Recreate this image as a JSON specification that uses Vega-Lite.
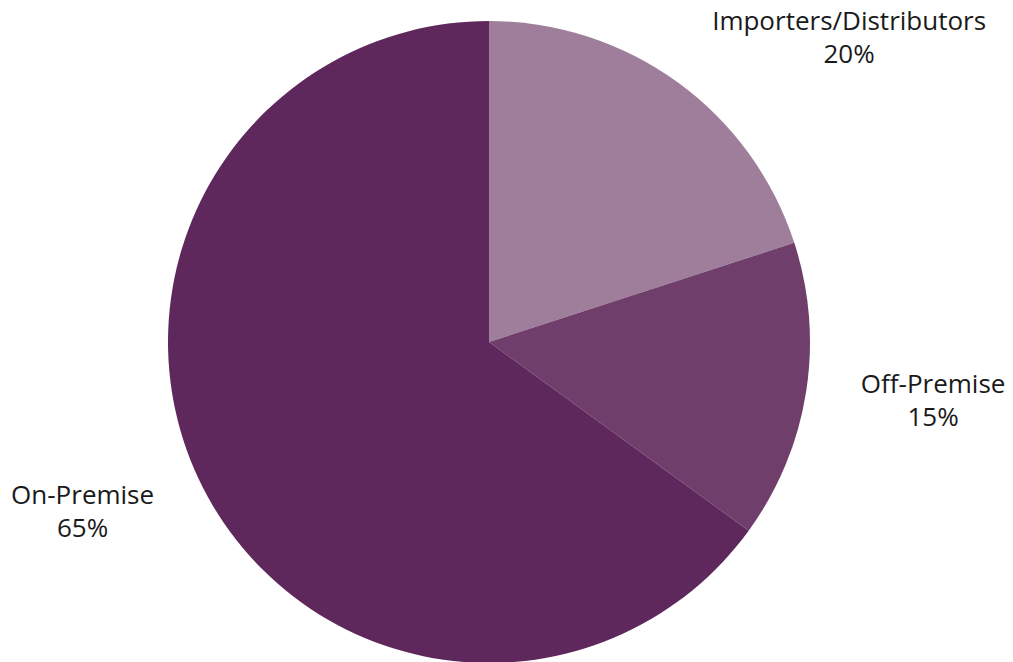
{
  "$schema": "https://vega.github.io/schema/vega-lite/v6.json",
  "width": 978,
  "height": 662,
  "autosize": {"type": "none"},
  "padding": {"left": 0, "top": 11, "right": 35, "bottom": 0},
  "background": "white",
  "view": {"stroke": null},
  "data": {
    "values": [
      {"segment": "Importers/Distributors", "share": 20, "label": "Importers/Distributors\n20%", "order": 1},
      {"segment": "Off-Premise", "share": 15, "label": "Off-Premise\n15%", "order": 2},
      {"segment": "On-Premise", "share": 65, "label": "On-Premise\n65%", "order": 3}
    ]
  },
  "encoding": {
    "theta": {"field": "share", "type": "quantitative", "stack": true},
    "order": {"field": "order", "type": "quantitative"}
  },
  "layer": [
    {
      "mark": {"type": "arc", "outerRadius": 321},
      "encoding": {
        "color": {
          "field": "segment",
          "type": "nominal",
          "scale": {
            "domain": ["Importers/Distributors", "Off-Premise", "On-Premise"],
            "range": ["#9F7E9B", "#6F3E6B", "#5F285D"]
          },
          "legend": null
        }
      }
    },
    {
      "mark": {"type": "text", "radius": 400, "dx": 125, "dy": 4, "lineBreak": "\n", "lineHeight": 33, "fontSize": 26, "font": "Open Sans", "color": "#1a1a1a", "align": "center", "baseline": "middle"},
      "encoding": {"text": {"condition": {"test": "datum.segment === 'Importers/Distributors'", "field": "label"}, "value": ""}}
    },
    {
      "mark": {"type": "text", "radius": 400, "dx": 49, "dy": -20, "lineBreak": "\n", "lineHeight": 33, "fontSize": 26, "font": "Open Sans", "color": "#1a1a1a", "align": "center", "baseline": "middle"},
      "encoding": {"text": {"condition": {"test": "datum.segment === 'Off-Premise'", "field": "label"}, "value": ""}}
    },
    {
      "mark": {"type": "text", "radius": 400, "dx": -50, "dy": -28, "lineBreak": "\n", "lineHeight": 33, "fontSize": 26, "font": "Open Sans", "color": "#1a1a1a", "align": "center", "baseline": "middle"},
      "encoding": {"text": {"condition": {"test": "datum.segment === 'On-Premise'", "field": "label"}, "value": ""}}
    }
  ]
}
